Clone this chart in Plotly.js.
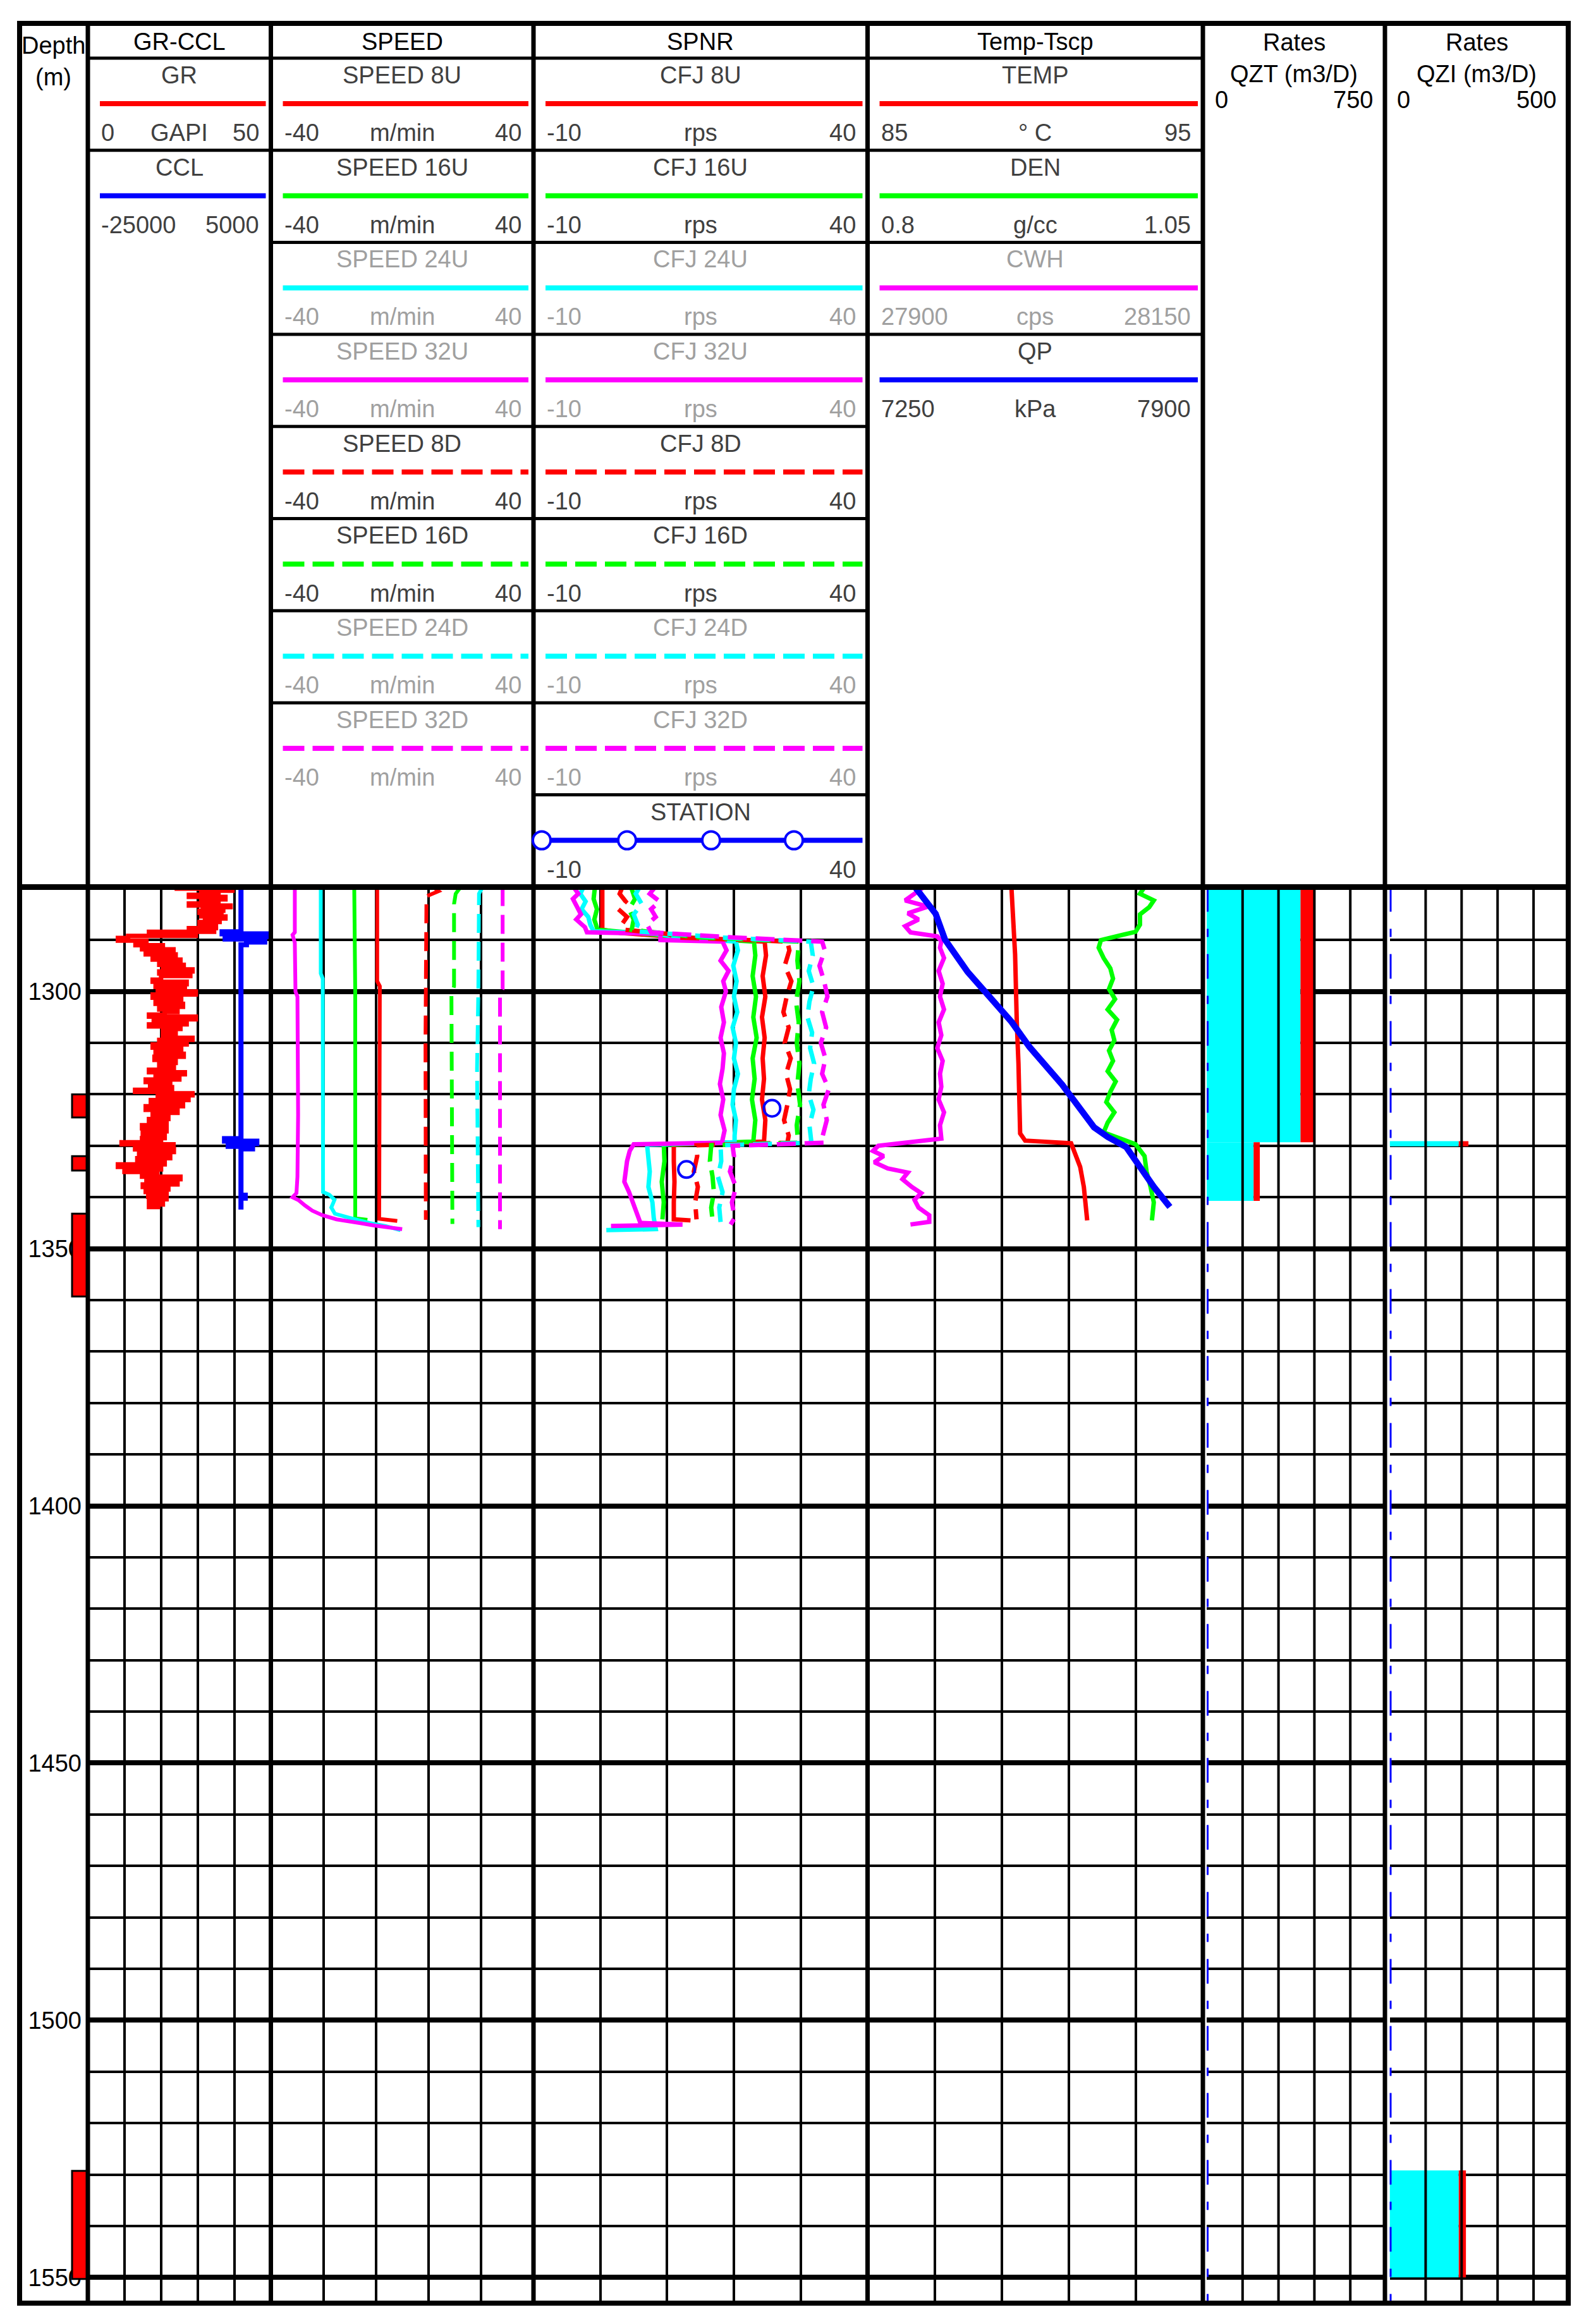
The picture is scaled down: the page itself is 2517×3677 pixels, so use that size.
<!DOCTYPE html>
<html><head><meta charset="utf-8">
<script src="https://cdn.plot.ly/plotly-3.0.1.min.js"></script>
<style>html,body{margin:0;padding:0;background:#fff;}#chart{width:2517px;height:3677px;}</style>
</head><body><div id="chart"></div>
<script>
// ---------------- DATA ----------------
// Depth track
const depthTicks = [1300, 1350, 1400, 1450, 1500, 1550];
const perfTop    = [1320.0, 1332.0, 1343.2, 1529.3];
const perfBottom = [1324.5, 1334.8, 1359.3, 1550.3];

// GR (GAPI), step curve
const grDepth = [1279.7,1280.0,1280.4,1280.8,1281.2,1281.6,1282.1,1282.5,1282.9,1283.3,1283.6,1284.0,1284.3,1284.7,1285.0,1285.4,1285.8,1286.2,1286.5,1287.0,1287.7,1288.0,1288.4,1288.8,1289.2,1289.6,1290.1,1290.5,1291.0,1291.4,1291.8,1292.3,1292.8,1293.3,1293.8,1294.3,1294.8,1295.2,1295.7,1296.1,1296.5,1297.0,1297.7,1298.1,1298.6,1299.1,1299.6,1300.0,1300.6,1301.2,1301.8,1302.4,1303.0,1303.5,1304.0,1304.5,1304.9,1305.4,1305.9,1306.4,1306.8,1307.3,1307.9,1308.6,1309.0,1309.4,1309.9,1310.3,1310.9,1311.5,1312.1,1312.7,1313.3,1313.9,1314.5,1315.2,1315.7,1316.1,1316.6,1317.1,1317.6,1318.1,1318.6,1319.1,1319.5,1319.8,1320.2,1320.5,1321.1,1321.7,1322.3,1323.0,1323.6,1324.2,1324.8,1325.4,1326.0,1326.6,1327.2,1327.8,1328.5,1328.9,1329.3,1329.7,1330.2,1330.7,1331.2,1331.7,1332.4,1333.1,1333.6,1334.1,1334.6,1335.1,1335.6,1336.0,1336.5,1337.0,1337.5,1338.0,1338.5,1339.0,1339.5,1339.9,1340.4,1340.9,1341.4,1341.9];
const grValue = [24.3,39.5,31.0,35.7,27.6,37.6,31.0,35.7,27.6,39.0,31.4,37.0,30.5,36.5,31.0,37.6,32.0,36.0,30.5,35.0,27.6,34.5,16.7,29.5,11.0,8.2,16.0,13.0,20.5,14.8,23.4,15.8,24.0,17.7,25.3,19.5,26.2,20.5,28.6,19.5,28.0,20.0,17.7,27.0,18.5,26.5,19.1,29.5,17.7,25.5,18.5,26.0,19.5,24.5,21.0,16.7,29.5,18.0,27.0,16.7,25.3,20.5,24.0,20.5,28.6,19.5,27.0,17.7,25.5,18.5,26.2,18.2,24.0,19.5,23.5,16.7,26.5,18.5,25.0,15.8,22.5,17.0,23.0,12.9,21.0,28.6,19.1,27.5,17.2,26.0,15.8,24.5,17.7,22.0,16.7,21.5,14.8,21.5,15.0,21.0,14.8,20.0,9.2,23.4,12.9,23.5,14.0,22.5,13.5,21.0,8.2,20.0,10.0,19.0,14.8,25.3,16.0,24.5,15.0,22.0,15.8,21.5,16.5,21.5,16.7,20.5,16.7,19.8];

// CCL, step curve
const cclDepth = [1279.7,1288.4,1288.8,1289.3,1289.8,1290.4,1290.9,1328.6,1329.1,1329.6,1330.1,1330.6,1339.6,1340.2,1342.4];
const cclValue = [100,-3000,4300,-2500,4000,1000,100,-2600,2700,-2000,2000,100,800,100,100];

// SPEED (m/min)
const spd8UDepth  = [1279.7,1298.0,1299.0,1320.0,1344.2,1344.6];
const spd8UValue  = [-7.6,-7.6,-6.8,-6.9,-7.0,-1.5];
const spd16UDepth = [1279.7,1290.0,1300.0,1344.1,1344.4];
const spd16UValue = [-14.6,-14.5,-14.3,-14.3,-10.6];
const spd24UDepth = [1279.7,1296.5,1297.5,1339.0,1339.5,1340.5,1342.0,1343.2,1344.0,1345.0,1345.6,1346.4];
const spd24UValue = [-24.8,-24.8,-24.2,-24.1,-22.2,-20.6,-21.6,-20.5,-16.0,-10.0,-5.0,-0.5];
const spd32UDepth = [1279.7,1288.5,1289.0,1290.5,1300.0,1301.0,1312.0,1324.0,1336.0,1339.2,1340.0,1340.6,1341.6,1342.6,1343.5,1344.3,1345.0,1345.5,1346.2];
const spd32UValue = [-32.7,-32.7,-33.4,-32.7,-32.5,-31.9,-31.8,-31.7,-31.9,-32.2,-33.4,-31.5,-29.6,-27.4,-24.3,-20.0,-13.0,-8.5,0.0];
const spd8DDepth  = [1279.7,1280.5,1281.5,1310.0,1344.4];
const spd8DValue  = [9.5,11.1,7.4,7.1,7.2];
const spd16DDepth = [1279.7,1281.0,1283.0,1299.0,1300.5,1345.2];
const spd16DValue = [17.8,16.3,15.8,15.8,15.0,15.3];
const spd24DDepth = [1279.7,1281.0,1300.0,1315.0,1345.8];
const spd24DValue = [24.5,23.4,23.2,22.8,23.2];
const spd32DDepth = [1279.7,1299.5,1300.5,1346.2];
const spd32DValue = [30.6,30.6,29.8,29.8];

// SPNR (rps)
const cfj8UDepth  = [1279.7,1288.0,1288.6,1289.5,1290.3,1293.0,1297.0,1301.0,1305.0,1309.0,1313.0,1317.0,1321.0,1325.0,1329.2,1329.8,1333.0,1337.0,1341.0,1344.3,1344.5];
const cfj8UValue  = [0.3,0.3,3.0,12.0,24.6,24.8,24.3,24.7,24.2,24.6,24.3,24.5,24.2,24.7,24.5,11.0,11.0,11.1,11.0,11.0,13.5];
const cfj16UDepth = [1279.7,1282.0,1284.0,1286.0,1288.0,1288.6,1289.5,1290.3,1293.0,1297.0,1301.0,1305.0,1309.0,1313.0,1317.0,1321.0,1325.0,1329.2,1329.8,1333.0,1337.0,1341.0,1344.3];
const cfj16UValue = [-0.8,-1.0,-0.5,-0.9,-0.4,4.3,13.0,23.0,23.2,22.8,23.3,22.9,23.4,22.8,23.1,22.7,23.2,22.9,9.5,9.6,9.2,9.5,9.3];
const cfj24UDepth = [1279.7,1281.0,1282.5,1284.0,1285.5,1287.0,1288.3,1288.6,1289.6,1290.3,1292.0,1295.0,1298.0,1301.0,1304.0,1307.0,1310.0,1313.0,1316.0,1319.0,1322.0,1325.0,1328.0,1329.3,1329.8,1332.0,1335.0,1338.0,1341.0,1344.0,1346.2,1346.4];
const cfj24UValue = [-2.5,-3.0,-2.2,-2.8,-1.8,-1.5,-1.0,7.0,13.0,20.3,20.6,19.9,20.4,20.0,20.5,19.8,20.3,20.0,20.6,20.0,19.8,20.3,20.1,20.1,7.0,7.1,7.4,7.2,7.8,8.0,8.3,0.9];
const cfj32UDepth = [1279.7,1281.0,1282.0,1283.5,1285.0,1286.0,1287.5,1288.5,1288.8,1290.0,1290.3,1292.0,1294.0,1296.0,1298.0,1300.0,1303.0,1306.0,1309.0,1312.0,1315.0,1318.0,1321.0,1324.0,1327.0,1329.4,1329.7,1331.0,1333.0,1335.0,1337.0,1339.0,1341.0,1343.0,1345.0,1345.3,1345.6];
const cfj32UValue = [-4.0,-3.3,-4.1,-3.5,-2.9,-3.6,-2.3,-2.0,9.0,9.0,18.3,18.9,18.0,19.2,18.4,18.8,18.1,18.5,18.0,18.5,18.3,17.9,18.4,18.0,18.6,18.2,5.0,4.4,4.0,3.8,3.6,4.3,4.9,5.5,6.0,12.3,1.6];
const cfj8DDepth  = [1279.7,1281.0,1282.5,1284.0,1285.5,1287.0,1288.0,1288.8,1289.5,1290.3,1292.0,1295.0,1298.0,1301.0,1304.0,1307.0,1310.0,1313.0,1316.0,1319.0,1322.0,1325.0,1328.0,1329.4,1329.9,1332.0,1335.0,1338.0,1341.0,1344.3];
const cfj8DValue  = [3.3,2.9,3.8,2.7,4.0,3.2,3.6,10.0,11.5,28.0,28.3,27.6,28.6,27.9,27.4,28.2,27.6,28.5,27.8,28.4,28.0,27.5,28.2,28.0,14.4,14.5,14.0,14.6,14.2,14.4];
const cfj16DDepth = [1279.7,1282.0,1284.0,1286.0,1288.0,1289.5,1290.3,1294.0,1298.0,1302.0,1306.0,1310.0,1314.0,1318.0,1322.0,1326.0,1329.4,1329.9,1333.0,1336.0,1339.0,1342.0,1344.5];
const cfj16DValue = [4.6,5.2,4.3,5.0,4.7,15.0,29.7,29.5,29.8,29.3,29.7,29.4,29.8,29.5,29.9,29.4,29.6,16.6,16.4,16.8,17.0,16.6,16.8];
const cfj24DDepth = [1279.7,1281.0,1283.0,1285.0,1287.0,1288.3,1289.5,1290.3,1293.0,1296.0,1299.0,1302.0,1305.0,1308.0,1311.0,1314.0,1317.0,1320.0,1323.0,1326.0,1329.4,1329.9,1333.0,1336.0,1339.0,1342.0,1344.8];
const cfj24DValue = [5.9,5.3,6.2,5.0,5.6,5.2,18.0,31.5,31.8,31.2,31.9,31.3,31.0,31.7,31.4,32.0,31.5,31.2,31.9,31.3,31.6,18.0,18.1,17.6,18.3,17.8,18.0];
const cfj32DDepth = [1279.7,1281.0,1282.5,1284.0,1285.5,1287.0,1288.5,1289.5,1290.3,1292.0,1295.0,1298.0,1301.0,1304.0,1307.0,1310.0,1313.0,1316.0,1319.0,1322.0,1325.0,1328.0,1329.4,1330.0,1332.0,1335.0,1338.0,1341.0,1344.0,1345.3];
const cfj32DValue = [8.2,7.4,8.9,7.6,8.3,7.0,7.6,20.0,33.2,33.6,32.8,33.5,34.0,33.2,33.8,33.0,33.7,33.2,34.2,33.4,33.9,33.3,33.6,19.8,20.0,19.4,20.3,19.7,20.1,19.5];
const stationDepth = [1322.7, 1334.6];
const stationValue = [25.7, 12.9];

// Temp-Tscp
const tempDepth = [1279.7,1285.5,1292.8,1305.9,1314.0,1327.6,1329.0,1329.5,1331.6,1334.1,1338.0,1342.4,1344.5];
const tempValue = [89.29,89.35,89.40,89.45,89.50,89.55,89.70,91.07,91.20,91.34,91.45,91.52,91.55];
const denDepth = [1279.7,1281.0,1282.3,1283.6,1285.0,1287.0,1288.4,1289.2,1290.0,1291.5,1293.5,1295.5,1297.5,1299.5,1301.5,1303.5,1305.5,1307.5,1309.5,1311.5,1313.5,1315.5,1317.5,1319.5,1321.5,1323.5,1325.5,1327.4,1328.6,1329.7,1332.0,1335.0,1338.0,1341.0,1344.5];
const denValue = [1.0065,1.0031,1.0134,1.0100,1.0031,1.0031,0.9998,0.9860,0.9740,0.9723,0.9760,0.9810,0.9830,0.9800,0.9845,0.9790,0.9860,0.9820,0.9840,0.9800,0.9830,0.9790,0.9850,0.9810,0.9780,0.9840,0.9790,0.9760,0.9894,0.9998,1.0065,1.0080,1.0110,1.0134,1.0120];
const cwhDepth = [1279.7,1281.0,1282.3,1283.5,1284.8,1286.0,1287.3,1288.5,1289.3,1290.2,1291.5,1293.5,1296.0,1298.5,1301.0,1303.5,1306.0,1308.5,1311.0,1313.5,1316.0,1318.5,1321.0,1323.5,1326.0,1328.6,1329.3,1330.0,1331.0,1332.0,1333.2,1334.4,1335.2,1336.5,1338.0,1339.2,1340.5,1342.0,1343.5,1344.8,1345.3];
const cwhValue = [27942,27935,27928,27945,27930,27938,27928,27932,27952,27955,27954,27957,27953,27956,27954,27957,27953,27955,27952,27956,27954,27955,27953,27957,27954,27955,27928,27908,27904,27912,27905,27915,27930,27926,27933,27940,27935,27938,27946,27946,27932];
const qpDepth = [1279.7,1284.9,1289.9,1296.2,1305.9,1310.8,1318.1,1321.5,1326.4,1328.3,1330.2,1334.1,1338.0,1341.9];
const qpValue = [7342,7382,7400,7444,7529,7564,7627,7653,7689,7716,7751,7778,7805,7836];

// Rates (m3/D)
const qztTop = [1279.7, 1329.3];
const qztBottom = [1329.3, 1340.7];
const qztWater = [392, 196];
const qztOil = [57, 26];
const qziTop = [1329.1, 1529.2];
const qziBottom = [1330.1, 1550.0];
const qziWater = [192, 192];
const qziOil = [27, 20];
const refDepth = [1279.7, 1555.0];
const refValue = [0, 0];

// Header labels
const trackTitles = ['GR-CCL','SPEED','SPNR','Temp-Tscp'];
const grNames = ['GR','CCL'];
const grUnits = ['GAPI',''];
const grMins = ['0','-25000'];
const grMaxs = ['50','5000'];
const speedNames = ['SPEED 8U','SPEED 16U','SPEED 24U','SPEED 32U','SPEED 8D','SPEED 16D','SPEED 24D','SPEED 32D'];
const speedUnit = 'm/min', speedMin = '-40', speedMax = '40';
const spnrNames = ['CFJ 8U','CFJ 16U','CFJ 24U','CFJ 32U','CFJ 8D','CFJ 16D','CFJ 24D','CFJ 32D'];
const spnrUnit = 'rps', spnrMin = '-10', spnrMax = '40';
const tempNames = ['TEMP','DEN','CWH','QP'];
const tempUnits = ['° C','g/cc','cps','kPa'];
const tempMins = ['85','0.8','27900','7250'];
const tempMaxs = ['95','1.05','28150','7900'];
const rateNames = ['QZT (m3/D)','QZI (m3/D)'];
const rateMins = ['0','0'];
const rateMaxs = ['750','500'];

// ---------------- DRAWING ----------------
const W = 2517, H = 3677;
const fx = p => p / W, fy = p => 1 - p / H;
const FONT = 'Liberation Sans, Arial, sans-serif';
const L0 = 31, L1 = 139, L2 = 428.5, L3 = 844, L4 = 1372.5, L5 = 1903, L6 = 2191, L7 = 2481;
const TOP = 37, HDR = 1403.5, BOT = 3644;
const rowY = k => 92 + 145.7 * k;
const passColors = ['#ff0000', '#00ff00', '#00ffff', '#ff00ff'];
const DARK = '#404040', LIGHT = '#a0a0a0';
const DASH = '30px,14px';

const traces = [];
function curve(xa, d, v, color, width, dash, shape) {
  traces.push({type: 'scatter', mode: 'lines', x: v, y: d, xaxis: xa, yaxis: 'y',
    line: {color: color, width: width, dash: dash || 'solid', shape: shape || 'linear'},
    hoverinfo: 'skip', showlegend: false});
}
curve('x', grDepth, grValue, '#ff0000', 7, 'solid', 'vh');
curve('x2', cclDepth, cclValue, '#0000ff', 8, 'solid', 'vh');

const spdD = [spd8UDepth, spd16UDepth, spd24UDepth, spd32UDepth, spd8DDepth, spd16DDepth, spd24DDepth, spd32DDepth];
const spdV = [spd8UValue, spd16UValue, spd24UValue, spd32UValue, spd8DValue, spd16DValue, spd24DValue, spd32DValue];
spdD.forEach((d, i) => curve('x3', d, spdV[i], passColors[i % 4], 6, i < 4 ? 'solid' : DASH));

const cfjD = [cfj8UDepth, cfj16UDepth, cfj24UDepth, cfj32UDepth, cfj8DDepth, cfj16DDepth, cfj24DDepth, cfj32DDepth];
const cfjV = [cfj8UValue, cfj16UValue, cfj24UValue, cfj32UValue, cfj8DValue, cfj16DValue, cfj24DValue, cfj32DValue];
cfjD.forEach((d, i) => curve('x4', d, cfjV[i], passColors[i % 4], 7, i < 4 ? 'solid' : DASH));
traces.push({type: 'scatter', mode: 'markers', x: stationValue, y: stationDepth, xaxis: 'x4', yaxis: 'y',
  marker: {symbol: 'circle-open', size: 26, color: '#0000ff', line: {width: 4, color: '#0000ff'}},
  hoverinfo: 'skip', showlegend: false});

curve('x5', tempDepth, tempValue, '#ff0000', 7);
curve('x6', denDepth, denValue, '#00ff00', 7);
curve('x7', cwhDepth, cwhValue, '#ff00ff', 7);
curve('x8', qpDepth, qpValue, '#0000ff', 10);

function rateBars(xa, tops, bots, water, oil) {
  const mid = tops.map((t, i) => (t + bots[i]) / 2);
  const wid = tops.map((t, i) => bots[i] - t);
  traces.push({type: 'bar', orientation: 'h', xaxis: xa, yaxis: 'y', y: mid, x: water, width: wid, base: 0,
    marker: {color: '#00ffff', line: {width: 0}}, hoverinfo: 'skip', showlegend: false});
  traces.push({type: 'bar', orientation: 'h', xaxis: xa, yaxis: 'y', y: mid, x: oil, width: wid, base: water,
    marker: {color: '#ff0000', line: {width: 0}}, hoverinfo: 'skip', showlegend: false});
}
rateBars('x9', qztTop, qztBottom, qztWater, qztOil);
rateBars('x10', qziTop, qziBottom, qziWater, qziOil);
curve('x9', refDepth, refValue, '#0000ff', 6, '39px,27px,13px,27px');
curve('x10', refDepth, refValue, '#0000ff', 6, '39px,27px,13px,27px');

// axes
const dom = (a, b) => [a / W, b / W];
const base = {showline: false, zeroline: false, showticklabels: false, ticks: '', fixedrange: true, anchor: 'y'};
const grid = {showgrid: true, gridcolor: '#000', gridwidth: 4, tickmode: 'array'};
const layout = {
  width: W, height: H, margin: {l: 0, r: 0, t: 0, b: 0},
  paper_bgcolor: '#fff', plot_bgcolor: 'rgba(0,0,0,0)', showlegend: false, barmode: 'overlay',
  xaxis:  Object.assign({}, base, grid, {domain: dom(L1, L2), range: [0, 50], tickvals: [10, 20, 30, 40]}),
  xaxis2: Object.assign({}, base, {overlaying: 'x', range: [-25000, 5000], showgrid: false}),
  xaxis3: Object.assign({}, base, grid, {domain: dom(L2, L3), range: [-40, 40], tickvals: [-24, -8, 8, 24]}),
  xaxis4: Object.assign({}, base, grid, {domain: dom(L3, L4), range: [-10, 40], tickvals: [0, 10, 20, 30]}),
  xaxis5: Object.assign({}, base, grid, {domain: dom(L4, L5), range: [85, 95], tickvals: [87, 89, 91, 93]}),
  xaxis6: Object.assign({}, base, {overlaying: 'x5', range: [0.8, 1.05], showgrid: false}),
  xaxis7: Object.assign({}, base, {overlaying: 'x5', range: [27900, 28150], showgrid: false}),
  xaxis8: Object.assign({}, base, {overlaying: 'x5', range: [7250, 7900], showgrid: false}),
  xaxis9: Object.assign({}, base, {domain: dom(1909, 2193), range: [0, 750], showgrid: false}),
  xaxis10: Object.assign({}, base, {domain: dom(2198.5, 2483), range: [0, 500], showgrid: false}),
  yaxis: {domain: [fy(BOT), fy(HDR)], range: [1555.0, 1279.7], autorange: false, anchor: 'free', position: L1 / W,
    side: 'left', tickmode: 'array', tickvals: depthTicks, ticktext: depthTicks.map(String),
    showgrid: true, gridcolor: '#000', gridwidth: 8,
    minor: {dtick: 10, tick0: 1300, showgrid: true, gridcolor: '#000', gridwidth: 4, ticks: ''},
    zeroline: false, showline: false, ticks: '', fixedrange: true, ticklabelstandoff: 10,
    tickfont: {family: FONT, size: 38, color: '#000'}},
  shapes: [], annotations: []
};

const shapes = layout.shapes, ann = layout.annotations;
function hline(x0, x1, y, w, color, dash) {
  shapes.push({type: 'line', xref: 'paper', yref: 'paper', x0: fx(x0), x1: fx(x1), y0: fy(y), y1: fy(y),
    line: {color: color || '#000', width: w, dash: dash || 'solid'}, layer: 'above'});
}
function vline(x, y0, y1, w) {
  shapes.push({type: 'line', xref: 'paper', yref: 'paper', x0: fx(x), x1: fx(x), y0: fy(y0), y1: fy(y1),
    line: {color: '#000', width: w}, layer: 'above'});
}
function txt(x, y, s, color, xa, size) {
  ann.push({xref: 'paper', yref: 'paper', x: fx(x), y: fy(y), text: s, showarrow: false,
    xanchor: xa || 'center', yanchor: 'middle', font: {family: FONT, size: size || 38, color: color || '#000'}});
}

// rate track vertical grid (drawn above fills)
[150, 300, 450, 600].forEach(v => shapes.push({type: 'line', xref: 'x9', yref: 'paper', x0: v, x1: v,
  y0: fy(BOT), y1: fy(HDR), line: {color: '#000', width: 4}, layer: 'above'}));
[100, 200, 300, 400].forEach(v => shapes.push({type: 'line', xref: 'x10', yref: 'paper', x0: v, x1: v,
  y0: fy(BOT), y1: fy(HDR), line: {color: '#000', width: 4}, layer: 'above'}));

// frame & separators
[L1, L2, L3, L4, L5, L6].forEach(x => vline(x, TOP, BOT, 7));
hline(L0, L7, HDR, 9);
hline(L1, L5, rowY(0), 5);
hline(L1, L5, rowY(1), 5);
hline(L2, L5, rowY(2), 5);
hline(L2, L5, rowY(3), 5);
[4, 5, 6, 7].forEach(k => hline(L2, L4, rowY(k), 5));
hline(L3, L4, rowY(8), 5);
shapes.push({type: 'rect', xref: 'paper', yref: 'paper', x0: fx(L0), x1: fx(L7), y0: fy(TOP), y1: fy(BOT),
  line: {color: '#000', width: 8}, layer: 'above'});

// perforations
perfTop.forEach((t, i) => shapes.push({type: 'rect', xref: 'paper', yref: 'y', x0: fx(114), x1: fx(137),
  y0: t, y1: perfBottom[i], fillcolor: '#ff0000', line: {color: '#000', width: 3}, layer: 'above'}));

// header text
txt((L0 + L1) / 2, 72, 'Depth');
txt((L0 + L1) / 2, 122, '(m)');
[[L1, L2], [L2, L3], [L3, L4], [L4, L5]].forEach((c, i) => txt((c[0] + c[1]) / 2, 66, trackTitles[i]));

function headerRow(left, right, k, name, unit, mn, mx, color, dash, tc) {
  const T = rowY(k);
  txt((left + right) / 2, T + 27, name, tc);
  hline(left + 19, right - 8, T + 72, 8, color, dash);
  txt(left + 19, T + 118, mn, tc, 'left');
  if (unit) txt((left + right) / 2, T + 118, unit, tc);
  txt(right - 17, T + 118, mx, tc, 'right');
}
headerRow(L1, L2, 0, grNames[0], grUnits[0], grMins[0], grMaxs[0], '#ff0000', 'solid', DARK);
headerRow(L1, L2, 1, grNames[1], grUnits[1], grMins[1], grMaxs[1], '#0000ff', 'solid', DARK);
speedNames.forEach((n, k) => headerRow(L2, L3, k, n, speedUnit, speedMin, speedMax, passColors[k % 4],
  k < 4 ? 'solid' : '34px,13px', (k % 4) < 2 ? DARK : LIGHT));
spnrNames.forEach((n, k) => headerRow(L3, L4, k, n, spnrUnit, spnrMin, spnrMax, passColors[k % 4],
  k < 4 ? 'solid' : '34px,13px', (k % 4) < 2 ? DARK : LIGHT));
headerRow(L3, L4, 8, 'STATION', '', spnrMin, spnrMax, '#0000ff', 'solid', DARK);
[857, 992, 1125, 1256].forEach(cx => shapes.push({type: 'circle', xref: 'paper', yref: 'paper',
  x0: fx(cx - 14), x1: fx(cx + 14), y0: fy(rowY(8) + 72 + 14), y1: fy(rowY(8) + 72 - 14),
  fillcolor: '#fff', line: {color: '#0000ff', width: 4}, layer: 'above'}));
const tempCols = ['#ff0000', '#00ff00', '#ff00ff', '#0000ff'];
tempNames.forEach((n, k) => headerRow(L4, L5, k, n, tempUnits[k], tempMins[k], tempMaxs[k], tempCols[k], 'solid', k === 2 ? LIGHT : DARK));

[[L5, L6], [L6, L7]].forEach((c, i) => {
  txt((c[0] + c[1]) / 2, 67, 'Rates');
  txt((c[0] + c[1]) / 2, 117, rateNames[i]);
  txt(c[0] + 17, 158, rateMins[i], '#000', 'left');
  txt(c[1] - 17, 158, rateMaxs[i], '#000', 'right');
});

Plotly.newPlot('chart', traces, layout, {staticPlot: true});
</script>
</body></html>
